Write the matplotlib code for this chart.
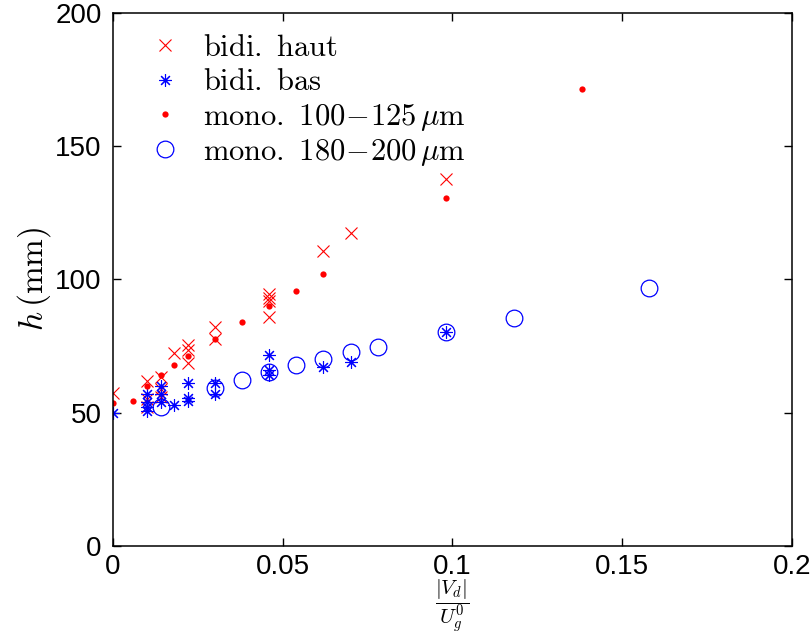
import matplotlib
matplotlib.use("Agg")
import matplotlib.pyplot as plt

plt.rcParams['font.family'] = ['Liberation Sans', 'DejaVu Sans']
plt.rcParams['mathtext.fontset'] = 'cm'

# bidi. haut (red crosses)
haut_x = [0, 0.01, 0.01, 0.01, 0.014, 0.014, 0.014, 0.018, 0.022, 0.022, 0.022,
          0.03, 0.03, 0.046, 0.046, 0.046, 0.046, 0.062, 0.07, 0.098]
haut_y = [57.5, 62, 55, 52, 63.5, 59, 56, 72.5, 75.5, 73.5, 68.5,
          82, 77.5, 94.5, 93, 92, 86, 110.7, 117.5, 137.5]

# bidi. bas (blue asterisks)
bas_x = [0, 0.01, 0.01, 0.01, 0.01, 0.014, 0.014, 0.014, 0.018, 0.022, 0.022, 0.022,
         0.03, 0.03, 0.046, 0.046, 0.046, 0.062, 0.07, 0.098]
bas_y = [50, 57, 54, 52, 50.5, 60, 57, 54, 52.8, 61, 55.5, 54.5,
         61, 57, 71.5, 66, 64, 67, 69, 80.4]

# mono. 100-125 um (red dots)
mono1_x = [0, 0.006, 0.01, 0.014, 0.018, 0.022, 0.03, 0.038, 0.046, 0.054, 0.062, 0.098, 0.138]
mono1_y = [53.6, 54.4, 60, 64, 67.8, 71.2, 77.6, 83.9, 90, 95.6, 102, 130.4, 171.4]

# mono. 180-200 um (blue circles)
mono2_x = [0.014, 0.03, 0.038, 0.046, 0.054, 0.062, 0.07, 0.078, 0.098, 0.118, 0.158]
mono2_y = [52.2, 59.2, 62.2, 65.4, 67.9, 70, 72.6, 74.5, 80.4, 85.6, 96.9]

xticks = [0, 0.05, 0.1, 0.15, 0.2]
xtick_labels = ['0', '0.05', '0.1', '0.15', '0.2']
yticks = [0, 50, 100, 150, 200]

fig = plt.figure(figsize=(8.11, 6.34), dpi=100)
ax = fig.add_axes([0.1393, 0.1388, 0.8373, 0.8412])

ax.plot(haut_x, haut_y, linestyle='none', marker='x', color='red',
        markersize=9, markeredgewidth=0.8, label=r'$\mathrm{bidi.\ haut}$')
ax.plot(bas_x, bas_y, linestyle='none', marker=(8, 2, 0), color='blue',
        markersize=9, markeredgewidth=0.8, label=r'$\mathrm{bidi.\ bas}$')
ax.plot(mono1_x, mono1_y, linestyle='none', marker='o', color='red',
        markersize=4.5, markeredgewidth=0, label=r'$\mathrm{mono.\ 100\!-\!125}\,\mu\mathrm{m}$')
ax.plot(mono2_x, mono2_y, linestyle='none', marker='o', color='blue',
        markerfacecolor='none', markersize=12, markeredgewidth=0.9,
        label=r'$\mathrm{mono.\ 180\!-\!200}\,\mu\mathrm{m}$')

ax.set_xlim(0, 0.2)
ax.set_ylim(0, 200)
ax.set_xticks(xticks)
ax.set_xticklabels(xtick_labels)
ax.set_yticks(yticks)
ax.tick_params(direction='in', length=6, width=1, labelsize=20, pad=8,
               top=True, right=True)
ax.tick_params(axis='x', pad=6)
for s in ax.spines.values():
    s.set_linewidth(1.1)

# fraction label sits under the tick labels
fig.text(452 / 811, 1 - 606 / 634, r'$\dfrac{|V_d|}{U_g^0}$', fontsize=15,
         ha='center', va='center')
ax.set_ylabel(r'$h\,(\mathrm{mm})$', fontsize=24, labelpad=2)

ax.legend(loc='upper left', bbox_to_anchor=(0.027, 0.979), frameon=False,
          fontsize=22, handletextpad=0.44, borderaxespad=0, borderpad=0.3,
          labelspacing=0.14, handlelength=1.6)

fig.savefig('out.png', dpi=100)
